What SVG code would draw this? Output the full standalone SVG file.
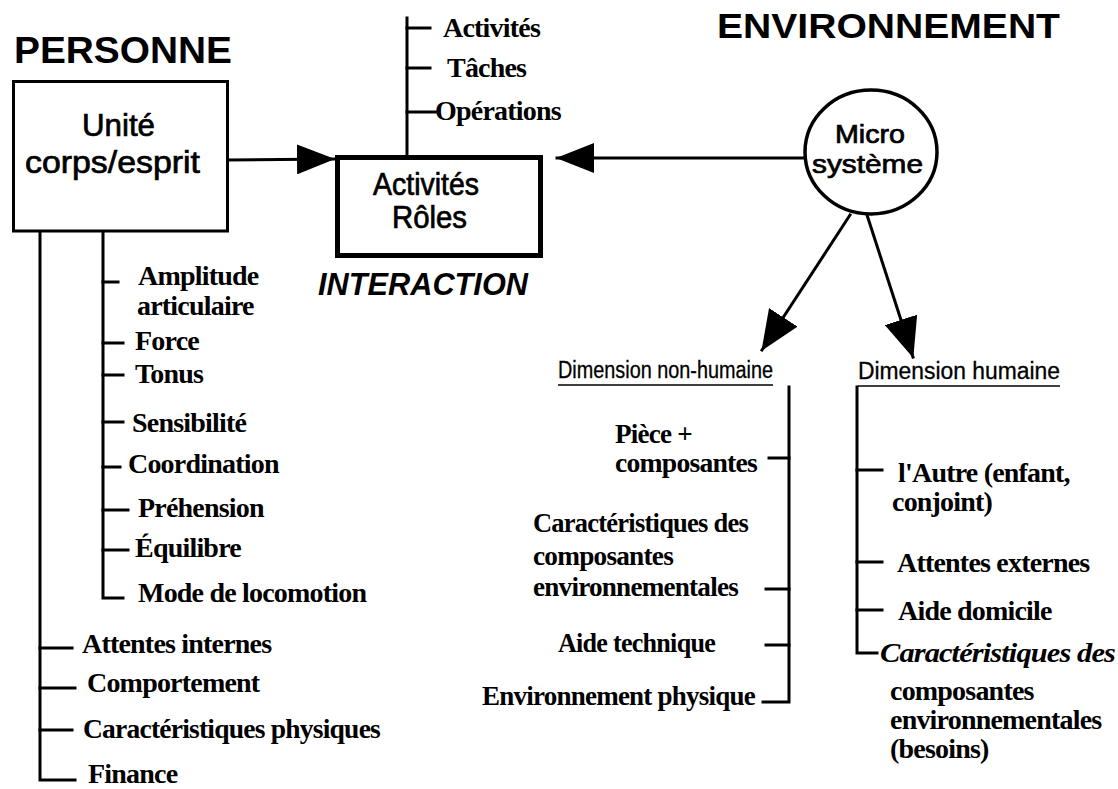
<svg xmlns="http://www.w3.org/2000/svg" width="1118" height="789" viewBox="0 0 1118 789">
<style>
.t{font-family:"Liberation Serif","Times New Roman",serif;font-weight:bold;font-size:28px;letter-spacing:-0.8px;fill:#000}
.s{font-family:"Liberation Sans",Arial,sans-serif;fill:#000;stroke:#000;stroke-width:0.7px}
.d{font-family:"Liberation Sans",Arial,sans-serif;fill:#000;stroke:#000;stroke-width:0.3px;font-size:23px}
.h{font-family:"Liberation Sans",Arial,sans-serif;font-weight:bold;fill:#000}
.ln{stroke:#000;stroke-width:3;fill:none;stroke-linecap:square}
.bx{fill:#fff;stroke:#000}
</style>
<defs>
<marker id="ah" markerUnits="userSpaceOnUse" viewBox="0 0 38 30" markerWidth="38" markerHeight="30" refX="37" refY="15" orient="auto">
<path d="M0,0 L38,15 L0,30 z" fill="#000"/>
</marker>
<marker id="ah2" markerUnits="userSpaceOnUse" viewBox="0 0 40 34" markerWidth="40" markerHeight="34" refX="39" refY="17" orient="auto">
<path d="M0,0 L40,17 L0,34 z" fill="#000"/>
</marker>
</defs>
<rect width="1118" height="789" fill="#fff"/>

<text class="h" x="14" y="63" font-size="37" textLength="218" lengthAdjust="spacingAndGlyphs">PERSONNE</text>
<text class="h" x="717" y="38" font-size="35" textLength="343" lengthAdjust="spacingAndGlyphs">ENVIRONNEMENT</text>
<text class="h" x="318" y="295" font-size="31" font-style="italic" textLength="210" lengthAdjust="spacingAndGlyphs">INTERACTION</text>

<g id="connectors">
<line class="ln" x1="228" y1="160" x2="334" y2="159" marker-end="url(#ah)"/>
<line class="ln" x1="806" y1="158" x2="557" y2="158" marker-end="url(#ah)"/>
<line class="ln" x1="850" y1="215" x2="762" y2="350" stroke-width="5" stroke-linecap="butt" marker-end="url(#ah2)"/>
<line class="ln" x1="867" y1="215" x2="913" y2="357" stroke-width="5" stroke-linecap="butt" marker-end="url(#ah2)"/>
<!-- interaction sub-list -->
<polyline class="ln" points="407,18 407,155"/>
<line class="ln" x1="407" y1="28" x2="430" y2="28"/>
<line class="ln" x1="407" y1="68" x2="430" y2="68"/>
<line class="ln" x1="407" y1="112" x2="436" y2="112"/>
<!-- personne inner -->
<polyline class="ln" points="103,232 103,598 123,598"/>
<line class="ln" x1="103" y1="282" x2="118" y2="282"/>
<line class="ln" x1="103" y1="343" x2="123" y2="343"/>
<line class="ln" x1="103" y1="375" x2="123" y2="375"/>
<line class="ln" x1="103" y1="422" x2="123" y2="422"/>
<line class="ln" x1="103" y1="467" x2="120" y2="467"/>
<line class="ln" x1="103" y1="510" x2="128" y2="510"/>
<line class="ln" x1="103" y1="550" x2="128" y2="550"/>
<!-- personne outer -->
<polyline class="ln" points="40,232 40,780 75,780"/>
<line class="ln" x1="40" y1="648" x2="72" y2="648"/>
<line class="ln" x1="40" y1="688" x2="75" y2="688"/>
<line class="ln" x1="40" y1="730" x2="72" y2="730"/>
<!-- non-humaine -->
<polyline class="ln" points="789,387 789,702 763,702"/>
<line class="ln" x1="769" y1="458" x2="789" y2="458"/>
<line class="ln" x1="766" y1="589" x2="789" y2="589"/>
<line class="ln" x1="766" y1="645" x2="789" y2="645"/>
<!-- humaine -->
<polyline class="ln" points="857,387 857,653 877,653"/>
<line class="ln" x1="857" y1="470" x2="882" y2="470"/>
<line class="ln" x1="857" y1="562" x2="882" y2="562"/>
<line class="ln" x1="857" y1="610" x2="882" y2="610"/>
<!-- underlines -->
<line x1="558" y1="385" x2="773" y2="385" stroke="#000" stroke-width="1.5"/>
<line x1="858" y1="386" x2="1060" y2="386" stroke="#000" stroke-width="1.5"/>
</g>

<g id="node-personne">
<rect class="bx" x="13.5" y="81.5" width="214" height="149.5" stroke-width="3"/>
<text class="s" x="82" y="136" font-size="31" textLength="73" lengthAdjust="spacingAndGlyphs">Unité</text>
<text class="s" x="25" y="173" font-size="31" textLength="175" lengthAdjust="spacingAndGlyphs">corps/esprit</text>
</g>

<g id="node-activites">
<rect class="bx" x="337.5" y="157.5" width="203" height="98" stroke-width="5"/>
<text class="s" x="373" y="195" font-size="31" textLength="106" lengthAdjust="spacingAndGlyphs">Activités</text>
<text class="s" x="392" y="228" font-size="31" textLength="75" lengthAdjust="spacingAndGlyphs">Rôles</text>
</g>

<g id="node-micro">
<ellipse class="bx" cx="871" cy="152" rx="66" ry="62" stroke-width="3.5"/>
<text class="s" x="835" y="143" font-size="25" textLength="70" lengthAdjust="spacingAndGlyphs">Micro</text>
<text class="s" x="812" y="173" font-size="25" textLength="111" lengthAdjust="spacingAndGlyphs">système</text>
</g>

<g id="list-interaction">
<text class="t" x="443" y="37">Activités</text>
<text class="t" x="447" y="77">Tâches</text>
<text class="t" x="435" y="120">Opérations</text>
</g>

<g id="list-personne">
<text class="t" x="138" y="285">Amplitude</text>
<text class="t" x="137" y="315">articulaire</text>
<text class="t" x="135" y="350">Force</text>
<text class="t" x="135" y="383">Tonus</text>
<text class="t" x="132" y="432">Sensibilité</text>
<text class="t" x="128" y="473">Coordination</text>
<text class="t" x="138" y="517">Préhension</text>
<text class="t" x="135" y="557">Équilibre</text>
<text class="t" x="138" y="602">Mode de locomotion</text>
<text class="t" x="82" y="653">Attentes internes</text>
<text class="t" x="87" y="692">Comportement</text>
<text class="t" x="83" y="738" textLength="297" lengthAdjust="spacingAndGlyphs">Caractéristiques physiques</text>
<text class="t" x="88" y="783">Finance</text>
</g>

<g id="node-non-humaine">
<text class="d" x="558" y="378" textLength="215" lengthAdjust="spacingAndGlyphs">Dimension non-humaine</text>
<text class="t" x="615" y="443" textLength="77" lengthAdjust="spacingAndGlyphs">Pièce +</text>
<text class="t" x="615" y="472" textLength="142" lengthAdjust="spacingAndGlyphs">composantes</text>
<text class="t" x="533" y="532" textLength="215" lengthAdjust="spacingAndGlyphs">Caractéristiques des</text>
<text class="t" x="533" y="565" textLength="140" lengthAdjust="spacingAndGlyphs">composantes</text>
<text class="t" x="533" y="596" textLength="205" lengthAdjust="spacingAndGlyphs">environnementales</text>
<text class="t" x="558" y="652" textLength="157" lengthAdjust="spacingAndGlyphs">Aide technique</text>
<text class="t" x="482" y="705" textLength="273" lengthAdjust="spacingAndGlyphs">Environnement physique</text>
</g>

<g id="node-humaine">
<text class="d" x="858" y="379" textLength="202" lengthAdjust="spacingAndGlyphs">Dimension humaine</text>
<text class="t" x="898" y="482">l'Autre (enfant,</text>
<text class="t" x="892" y="511">conjoint)</text>
<text class="t" x="897" y="572">Attentes externes</text>
<text class="t" x="898" y="620">Aide domicile</text>
<text class="t" x="880" y="662" font-style="italic" textLength="235" lengthAdjust="spacingAndGlyphs">Caractéristiques des</text>
<text class="t" x="890" y="700">composantes</text>
<text class="t" x="890" y="729">environnementales</text>
<text class="t" x="890" y="758">(besoins)</text>
</g>
</svg>
